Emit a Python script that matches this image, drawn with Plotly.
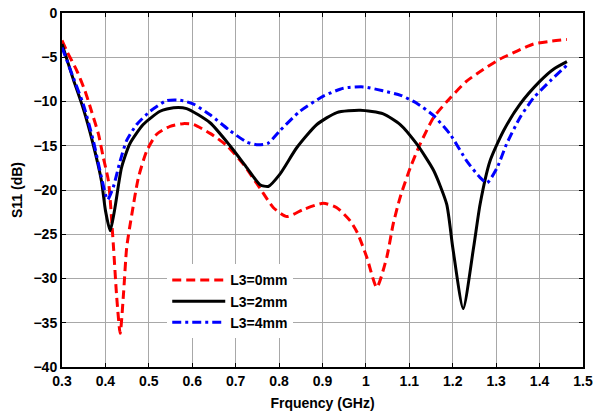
import plotly.graph_objects as go

# L3 = 0 mm (red dashed)
f0 = [0.300, 0.311, 0.334, 0.353, 0.368, 0.384, 0.395, 0.407, 0.418, 0.426, 0.434,
      0.442, 0.449, 0.461, 0.476, 0.495, 0.518, 0.549, 0.579, 0.603, 0.641, 0.680,
      0.718, 0.756, 0.787, 0.818, 0.856, 0.902, 0.933, 0.964, 0.980, 1.002, 1.025,
      1.048, 1.063, 1.079, 1.102, 1.125, 1.156, 1.194, 1.232, 1.271, 1.309, 1.348,
      1.386, 1.424, 1.463]
s0 = [-3.1, -4.3, -6.5, -8.8, -11.1, -13.7, -16.3, -19.0, -26.0, -32.1, -36.2,
      -31.5, -26.5, -22.7, -18.6, -15.6, -13.7, -12.8, -12.5, -12.6, -13.6, -15.0,
      -17.1, -19.8, -22.0, -23.0, -22.2, -21.5, -22.0, -23.5, -24.8, -27.6, -31.0,
      -27.6, -23.8, -20.8, -17.5, -14.8, -11.8, -9.6, -7.7, -6.35, -5.2, -4.3,
      -3.5, -3.2, -3.0]

# L3 = 2 mm (black solid)
f2 = [0.300, 0.326, 0.349, 0.370, 0.391, 0.400, 0.411, 0.422, 0.437, 0.456, 0.487,
      0.526, 0.557, 0.587, 0.641, 0.687, 0.726, 0.756, 0.775, 0.802, 0.841, 0.887,
      0.933, 0.987, 1.040, 1.079, 1.117, 1.156, 1.186, 1.200, 1.224, 1.248, 1.263,
      1.286, 1.317, 1.355, 1.401, 1.432, 1.463]
s2 = [-3.5, -7.5, -10.8, -14.5, -19.0, -22.3, -24.6, -22.0, -17.5, -14.8, -12.6,
      -11.1, -10.7, -10.8, -12.4, -15.0, -17.5, -19.4, -19.6, -18.2, -15.2, -12.6,
      -11.25, -11.0, -11.4, -12.6, -14.8, -17.8, -21.6, -26.5, -33.4, -26.5, -21.6,
      -16.7, -13.3, -10.3, -7.7, -6.35, -5.5]

# L3 = 4 mm (blue dash-dot)
f4 = [0.300, 0.326, 0.349, 0.372, 0.391, 0.405, 0.418, 0.434, 0.449, 0.472, 0.503,
      0.541, 0.572, 0.603, 0.641, 0.687, 0.726, 0.752, 0.775, 0.802, 0.848, 0.902,
      0.948, 0.994, 1.040, 1.080, 1.117, 1.156, 1.194, 1.232, 1.263, 1.279, 1.302,
      1.324, 1.355, 1.386, 1.424, 1.463]
s4 = [-3.9, -7.3, -10.3, -14.4, -18.6, -21.1, -19.7, -16.7, -14.4, -12.6, -11.1,
      -9.9, -9.85, -10.3, -11.5, -13.3, -14.6, -14.9, -14.7, -13.3, -11.1, -9.4,
      -8.5, -8.35, -8.8, -9.3, -10.2, -11.6, -13.7, -16.7, -18.6, -19.2, -17.5,
      -14.8, -11.8, -9.6, -7.7, -5.9]

x_ticks = [0.3, 0.4, 0.5, 0.6, 0.7, 0.8, 0.9, 1.0, 1.1, 1.2, 1.3, 1.4, 1.5]
x_labels = ["0.3", "0.4", "0.5", "0.6", "0.7", "0.8", "0.9", "1", "1.1", "1.2", "1.3", "1.4", "1.5"]
y_ticks = [0, -5, -10, -15, -20, -25, -30, -35, -40]

font = "Liberation Sans, Arial, sans-serif"

fig = go.Figure()
fig.add_trace(go.Scatter(x=f0, y=s0, mode="lines", name="<b>L3=0mm</b>",
                         line=dict(color="#ff0000", width=3, dash="9px,5px", shape="spline", smoothing=0.6)))
fig.add_trace(go.Scatter(x=f2, y=s2, mode="lines", name="<b>L3=2mm</b>",
                         line=dict(color="#000000", width=3, shape="spline", smoothing=0.6)))
fig.add_trace(go.Scatter(x=f4, y=s4, mode="lines", name="<b>L3=4mm</b>",
                         line=dict(color="#0000ff", width=3, dash="9px,4px,3px,4px", shape="spline", smoothing=0.6)))

axis_common = dict(showline=True, linecolor="black", linewidth=2, mirror="ticks",
                   ticks="inside", ticklen=4, tickcolor="black", tickwidth=1,
                   showgrid=True, gridcolor="#a8a8a8", gridwidth=1, zeroline=False,
                   automargin=False,
                   tickfont=dict(family=font, size=14, color="black", weight="bold"))

fig.update_xaxes(range=[0.3, 1.5], tickvals=x_ticks, ticktext=x_labels,
                 title=dict(text="<b>Frquency (GHz)</b>", font=dict(family=font, size=14, color="black"), standoff=10),
                 **axis_common)
fig.update_yaxes(range=[-40, 0], tickvals=y_ticks,
                 title=dict(text="<b>S11 (dB)</b>", font=dict(family=font, size=14, color="black"), standoff=8),
                 **axis_common)

fig.update_layout(
    width=593, height=414,
    margin=dict(l=62, r=10, t=13, b=47),
    paper_bgcolor="white", plot_bgcolor="white",
    font=dict(family=font, color="black"),
    showlegend=True,
    legend=dict(x=0.202, y=0.29, xanchor="left", yanchor="top",
                bgcolor="white", borderwidth=0,
                font=dict(family=font, size=14, color="black"),
                itemwidth=53, tracegroupgap=0),
)

fig.write_html("out.html")
